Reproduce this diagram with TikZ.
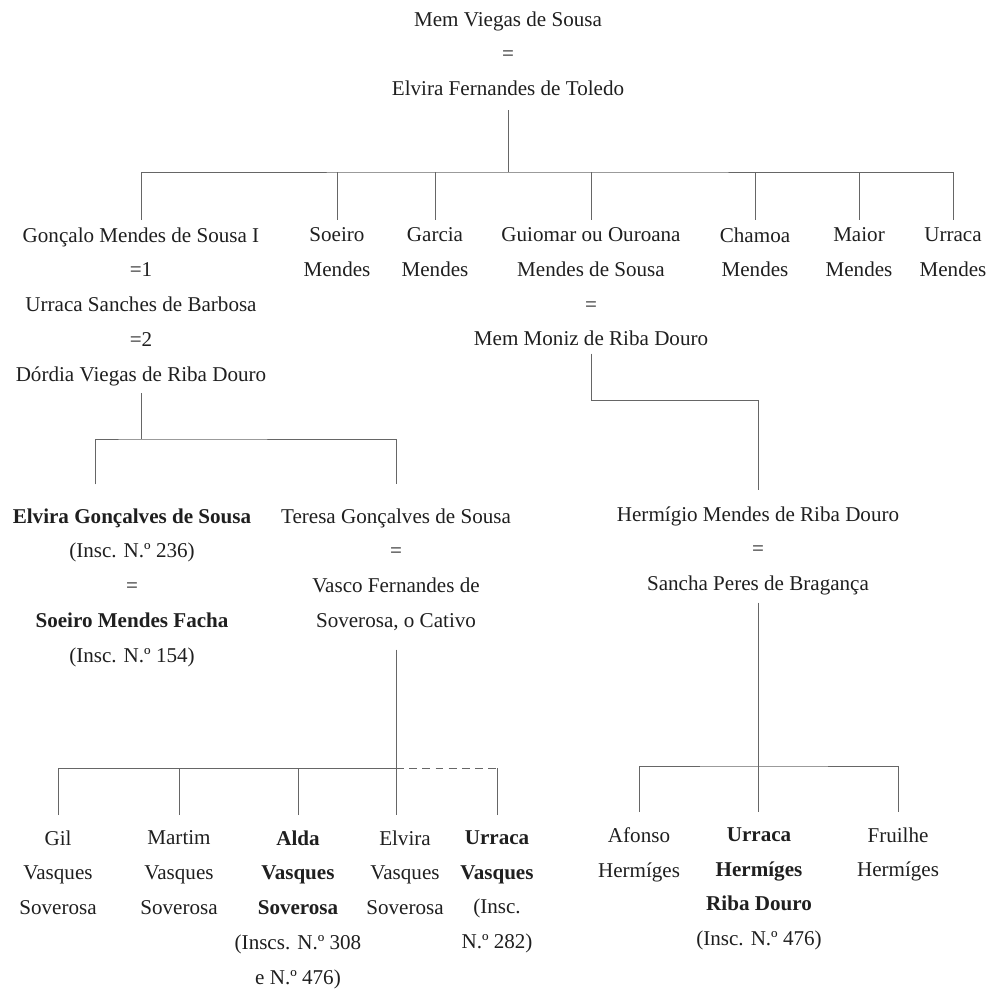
\documentclass[tikz,border=0pt]{standalone}
\usepackage{fontspec}
\setmainfont{Liberation Serif}
\tikzset{
	person/.style={align=center, anchor=north, inner sep=4pt, text=black!88, font=\fontsize{12}{19.85}\selectfont},
	link/.style={draw=black!60, line width=0.55pt},
}
\begin{document}
\begin{tikzpicture}[x=0.02cm, y=-0.02cm]
	\useasboundingbox (0,0) rectangle (988,989);
	\node[person] (mem) at (508,4) {Mem Viegas de Sousa\\=\\Elvira Fernandes de Toledo};

	\node[person] (goncalo) at (141,220) {Gonçalo Mendes de Sousa I\\=1\\Urraca Sanches de Barbosa\\=2\\Dórdia Viegas de Riba Douro};
	\node[person] (soeiro) at (337,220) {Soeiro\\Mendes};
	\node[person] (garcia) at (435,220) {Garcia\\Mendes};
	\node[person] (guiomar) at (591,220) {Guiomar ou Ouroana\\Mendes de Sousa\\=\\Mem Moniz de Riba Douro};
	\node[person] (chamoa) at (755,220) {Chamoa\\Mendes};
	\node[person] (maior) at (859,220) {Maior\\Mendes};
	\node[person] (urracam) at (953,220) {Urraca\\Mendes};

	\node[person] (elvirag) at (132,501) {\textbf{Elvira Gonçalves de Sousa}\\(Insc. N.º 236)\\=\\\textbf{Soeiro Mendes Facha}\\(Insc. N.º 154)};
	\node[person] (teresa) at (396,501) {Teresa Gonçalves de Sousa\\=\\Vasco Fernandes de\\Soverosa, o Cativo};
	\node[person] (hermigio) at (758,499) {Hermígio Mendes de Riba Douro\\=\\Sancha Peres de Bragança};

	\node[person] (gil) at (58,823) {Gil\\Vasques\\Soverosa};
	\node[person] (martim) at (179,823) {Martim\\Vasques\\Soverosa};
	\node[person] (alda) at (298,823) {\textbf{Alda}\\\textbf{Vasques}\\\textbf{Soverosa}\\(Inscs. N.º 308\\e N.º 476)};
	\node[person] (elvirav) at (405,823) {Elvira\\Vasques\\Soverosa};
	\node[person] (urracav) at (497,823) {\textbf{Urraca}\\\textbf{Vasques}\\(Insc.\\N.º 282)};
	\node[person] (afonso) at (639,820) {Afonso\\Hermíges};
	\node[person] (urracah) at (759,820) {\textbf{Urraca}\\\textbf{Hermíges}\\\textbf{Riba Douro}\\(Insc. N.º 476)};
	\node[person] (fruilhe) at (898,820) {Fruilhe\\Hermíges};

	\coordinate (bar1) at (508,172);
	\coordinate (bend) at (591,400);
	\coordinate (bar2) at (141,439);
	\coordinate (bar3) at (396,768);
	\coordinate (bar4) at (759,766);

	\draw[link, shorten <=4pt] (mem.south) -- (bar1);
	\draw[link] (goncalo.north) |- (bar1) -| (urracam.north);
	\foreach \n in {soeiro,garcia,guiomar,chamoa,maior}
		\draw[link] (\n.north) -- (\n.north |- bar1);

	\draw[link, shorten >=5pt] (guiomar.south) -- (bend) -| (hermigio.north);

	\draw[link] (goncalo.south) -- (bar2);
	\draw[link, shorten <=9.5pt, shorten >=9.5pt] ([xshift=-21pt]elvirag.north) |- (bar2) -| (teresa.north);

	\draw[link, shorten <=6.5pt, shorten >=4.5pt] (teresa.south) -- (teresa.south |- elvirav.north);
	\draw[link, shorten <=4.5pt] (gil.north) |- (bar3);
	\foreach \n in {martim,alda}
		\draw[link, shorten <=4.5pt] (\n.north) -- (\n.north |- bar3);
	\draw[link, dash pattern=on 4.5pt off 3pt] (bar3) -- (urracav.north |- bar3);
	\draw[link, shorten <=4.5pt] (urracav.north) -- (urracav.north |- bar3);

	\draw[link, shorten >=4.5pt] (hermigio.south) -- (hermigio.south |- urracah.north);
	\draw[link, shorten <=4.5pt, shorten >=4.5pt] (afonso.north) |- (bar4) -| (fruilhe.north);
\end{tikzpicture}
\end{document}
